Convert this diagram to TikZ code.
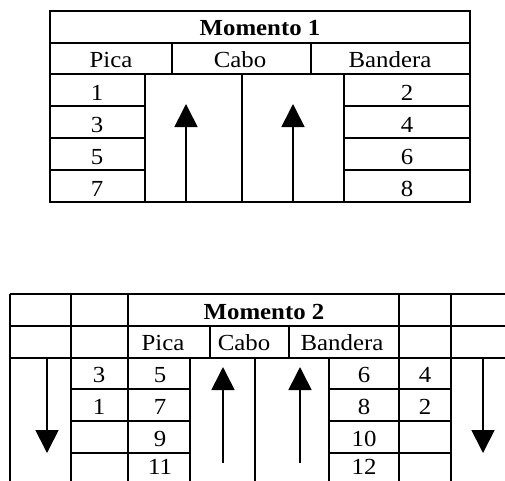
\documentclass[tikz,border=0pt]{standalone}
\usepackage{fontspec}
\setmainfont{Liberation Serif}
\usetikzlibrary{arrows.meta}

\begin{document}
\begin{tikzpicture}[
  x=1pt, y=-1pt,
  grid/.style={line width=2.8pt},
  txt/.style={font=\fontsize{23}{25}\selectfont, inner sep=0pt, xscale=1.08},
  ttl/.style={txt, font=\fontsize{23}{25}\selectfont\bfseries},
  arr/.style={line width=1.7pt, -{Triangle[length=23pt, width=23pt]}}
]
  \useasboundingbox (0,0) rectangle (505,480);
  \clip (0,0) rectangle (505,480);

  % Momento 1
  \draw[grid] (50,11) rectangle (470,202);
  \draw[grid] (50,43) -- (470,43) (50,74) -- (470,74);
  \draw[grid] (172,43) -- (172,74) (311,43) -- (311,74);
  \draw[grid] (145,74) -- (145,202) (242,74) -- (242,202) (344,74) -- (344,202);
  \draw[grid] (50,106) -- (145,106) (50,138) -- (145,138) (50,170) -- (145,170);
  \draw[grid] (344,106) -- (470,106) (344,138) -- (470,138) (344,170) -- (470,170);

  \node[ttl] (mom1) at (260,28) {Momento 1};
  \node[txt] (pica1) at (111,60) {Pica};
  \node[txt] (cabo1) at (240,60) {Cabo};
  \node[txt] (band1) at (390,60) {Bandera};
  \node[txt] (p1a) at (97,93) {1};
  \node[txt] (p1b) at (97,125) {3};
  \node[txt] (p1c) at (97,157) {5};
  \node[txt] (p1d) at (97,189) {7};
  \node[txt] (b1a) at (407,93) {2};
  \node[txt] (b1b) at (407,125) {4};
  \node[txt] (b1c) at (407,157) {6};
  \node[txt] (b1d) at (407,189) {8};

  \coordinate (upA) at (186,201);
  \coordinate (upAt) at (186,104);
  \coordinate (upB) at (293,201);
  \coordinate (upBt) at (293,104);
  \draw[arr] (upA) -- (upAt);
  \draw[arr] (upB) -- (upBt);

  % Momento 2
  \draw[grid] (10,294) -- (520,294) (10,326) -- (520,326) (10,358) -- (520,358);
  \draw[grid] (10,294) -- (10,490) (71,294) -- (71,490) (128,294) -- (128,490)
    (399,294) -- (399,490) (451,294) -- (451,490);
  \draw[grid] (210,326) -- (210,358) (289,326) -- (289,358);
  \draw[grid] (190,358) -- (190,490) (255,358) -- (255,490) (329,358) -- (329,490);
  \draw[grid] (71,389) -- (190,389) (71,421) -- (190,421) (71,453) -- (190,453) (71,485) -- (190,485);
  \draw[grid] (329,389) -- (451,389) (329,421) -- (451,421) (329,453) -- (451,453) (329,485) -- (451,485);

  \node[ttl] (mom2) at (264,312) {Momento 2};
  \node[txt] (pica2) at (163,343) {Pica};
  \node[txt] (cabo2) at (244,343) {Cabo};
  \node[txt] (band2) at (342,343) {Bandera};
  \node[txt] (o2a) at (99,375) {3};
  \node[txt] (o2b) at (99,407) {1};
  \node[txt] (p2a) at (160,375) {5};
  \node[txt] (p2b) at (160,407) {7};
  \node[txt] (p2c) at (160,439) {9};
  \node[txt] (p2d) at (160,467) {11};
  \node[txt] (b2a) at (364,375) {6};
  \node[txt] (b2b) at (364,407) {8};
  \node[txt] (b2c) at (364,439) {10};
  \node[txt] (b2d) at (364,467) {12};
  \node[txt] (e2a) at (425,375) {4};
  \node[txt] (e2b) at (425,407) {2};

  \coordinate (dnL) at (47,358);
  \coordinate (dnLt) at (47,453);
  \coordinate (dnR) at (483,358);
  \coordinate (dnRt) at (483,453);
  \coordinate (upC) at (223,463);
  \coordinate (upCt) at (223,367);
  \coordinate (upD) at (300,463);
  \coordinate (upDt) at (300,367);
  \draw[arr] (dnL) -- (dnLt);
  \draw[arr] (dnR) -- (dnRt);
  \draw[arr] (upC) -- (upCt);
  \draw[arr] (upD) -- (upDt);
\end{tikzpicture}
\end{document}
